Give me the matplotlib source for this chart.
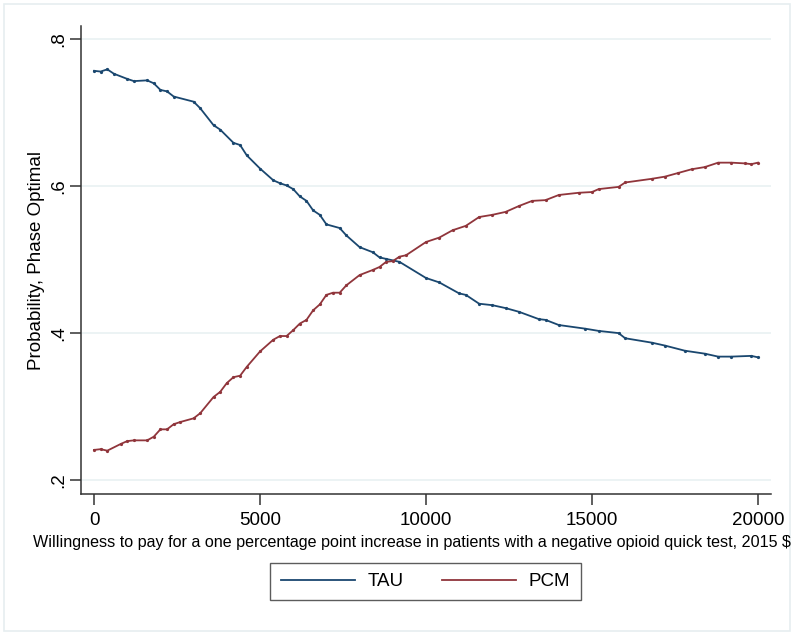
import matplotlib
matplotlib.use("Agg")
import matplotlib.pyplot as plt
from matplotlib.patches import Rectangle

plt.rcParams['font.family'] = ['Liberation Sans', 'DejaVu Sans']

tau_x = [0, 200, 400, 600, 1000, 1200, 1600, 1800, 2000, 2200, 2400, 3000, 3200, 3600,
         3800, 4200, 4400, 4600, 5000, 5400, 5600, 5800, 6000, 6200, 6400, 6600, 6800,
         7000, 7400, 7600, 8000, 8400, 8600, 8800, 9200, 10000, 10400, 11000, 11200,
         11600, 12000, 12400, 12800, 13400, 13600, 14000, 14800, 15200, 15800, 16000,
         16800, 17200, 17800, 18400, 18800, 19200, 19800, 20000]
tau_y = [.757, .756, .759, .753, .746, .743, .744, .740, .731, .729, .722, .715, .706, .683,
         .677, .659, .656, .642, .624, .608, .604, .601, .596, .586, .580, .567, .561,
         .548, .543, .533, .517, .510, .503, .501, .497, .475, .469, .454, .452,
         .440, .438, .434, .429, .419, .418, .411, .406, .403, .400, .393,
         .387, .383, .376, .372, .368, .368, .369, .367]

pcm_x = [0, 200, 400, 800, 1000, 1200, 1600, 1800, 2000, 2200, 2400, 2600, 3000, 3200,
         3600, 3800, 4000, 4200, 4400, 4600, 5000, 5400, 5600, 5800, 6000, 6200, 6400,
         6600, 6800, 7000, 7200, 7400, 7600, 8000, 8400, 8600, 8800, 9000, 9200, 9400,
         10000, 10400, 10800, 11200, 11600, 12000, 12400, 12800, 13200, 13600, 14000,
         14600, 15000, 15200, 15800, 16000, 16800, 17200, 17600, 18000, 18400, 18800,
         19200, 19600, 19800, 20000]
pcm_y = [.241, .242, .240, .249, .253, .254, .254, .259, .269, .269, .276, .279, .284, .291,
         .313, .320, .332, .340, .342, .354, .375, .391, .396, .396, .404, .413, .418,
         .431, .439, .452, .455, .455, .465, .479, .486, .490, .497, .498, .504, .506,
         .524, .530, .540, .546, .558, .561, .565, .573, .580, .581, .588,
         .591, .592, .596, .599, .605, .610, .613, .618, .623, .626, .632,
         .632, .631, .630, .632]

x_ticks = [0, 5000, 10000, 15000, 20000]
y_ticks = [0.2, 0.4, 0.6, 0.8]
y_tick_labels = ['.2', '.4', '.6', '.8']
series_names = ['TAU', 'PCM']
x_title = 'Willingness to pay for a one percentage point increase in patients with a negative opioid quick test, 2015 $'
y_title = 'Probability, Phase Optimal'

W, H = 795, 634
fig = plt.figure(figsize=(W / 100, H / 100), dpi=100)
fig.patch.set_facecolor('white')
# outer frame
fig.add_artist(Rectangle((4 / W, 3 / H), 786 / W, 627 / H, transform=fig.transFigure,
                         fill=False, edgecolor='#e6eef0', linewidth=1.2))

ax = fig.add_axes([81 / W, (H - 494) / H, (771 - 81) / W, (494 - 26) / H])
ax.set_facecolor('white')

navy = '#1a476f'
maroon = '#90353b'
ax.plot(tau_x, tau_y, color=navy, linewidth=1.3, marker='o', markersize=1.3, label=series_names[0])
ax.plot(pcm_x, pcm_y, color=maroon, linewidth=1.3, marker='o', markersize=1.3, label=series_names[1])

ax.set_xlim(-392, 20392)
ax.set_ylim(0.181, 0.818)
ax.set_xticks(x_ticks)
ax.set_xticklabels([str(t) for t in x_ticks], fontsize=13.5)
ax.set_yticks(y_ticks)
ax.set_yticklabels(y_tick_labels, fontsize=13.5, rotation=90, va='center')

ax.grid(axis='y', color='#eaf2f3', linewidth=1.3)
ax.set_axisbelow(True)
for s in ['top', 'right']:
    ax.spines[s].set_visible(False)
for s in ['left', 'bottom']:
    ax.spines[s].set_color('#333333')
    ax.spines[s].set_linewidth(1.1)
ax.tick_params(axis='both', direction='out', length=8, width=1.1, color='#333333', pad=5)
ax.tick_params(axis='y', pad=2)

fig.text(37 / W, (H - 260) / H, y_title, fontsize=13.5, rotation=90, ha='center', va='center')
fig.text(411.5 / W, (H - 543) / H, x_title, fontsize=11.6, ha='center', va='center')

leg = fig.legend(loc='center', bbox_to_anchor=(425.5 / W, (H - 581.5) / H), ncol=2,
                 fontsize=13.5, frameon=True, fancybox=False, handlelength=3.95,
                 columnspacing=2.0, handletextpad=0.7, borderpad=0.55, borderaxespad=0)
leg.get_frame().set_edgecolor('#333333')
leg.get_frame().set_linewidth(1.0)
for h in leg.legend_handles:
    h.set_marker('')

fig.savefig('out.png', dpi=100, facecolor='white')
